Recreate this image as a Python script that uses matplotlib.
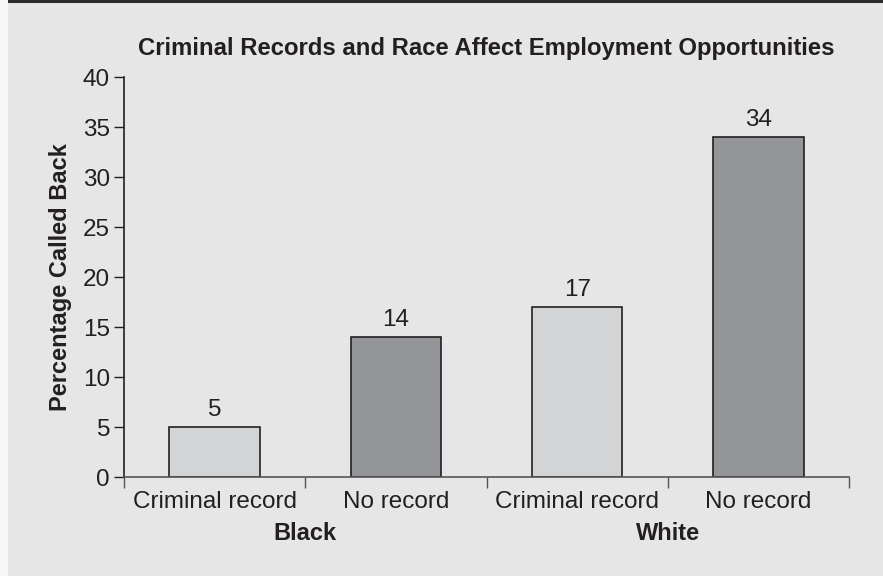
import matplotlib
matplotlib.use("Agg")
import matplotlib.pyplot as plt
from matplotlib.patches import Rectangle

categories = ["Criminal record", "No record", "Criminal record", "No record"]
groups = ["Black", "White"]
values = [5, 14, 17, 34]
bar_colors = ["#d3d4d6", "#939598", "#d3d4d6", "#939598"]
yticks = [0, 5, 10, 15, 20, 25, 30, 35, 40]
title = "Criminal Records and Race Affect Employment Opportunities"
ylabel = "Percentage Called Back"

plt.rcParams['font.family'] = ['Liberation Sans', 'DejaVu Sans']
txt = "#231f20"
bg = "#e6e6e6"

fig = plt.figure(figsize=(8.83, 5.76), dpi=100, facecolor=bg)
# white strip at left and dark top border
fig.patches.append(Rectangle((0, 0), 8/883, 1, transform=fig.transFigure, facecolor="#f7f7f7", edgecolor="none", zorder=0))
fig.patches.append(Rectangle((8/883, 1-3/576), 1, 3/576, transform=fig.transFigure, facecolor="#2b2b2b", edgecolor="none", zorder=0))

ax = fig.add_axes([124/883, 99/576, 725/883, 400/576])
ax.set_facecolor(bg)
x = list(range(len(values)))
bars = ax.bar(x, values, width=0.5, color=bar_colors, edgecolor=txt, linewidth=1.2, zorder=2)
for xi, v in zip(x, values):
    ax.text(xi, v + 0.6, str(v), ha="center", va="bottom", fontsize=17.5, color=txt)

ax.set_xlim(-0.5, len(values) - 0.5)
ax.set_ylim(0, 40)
ax.set_yticks(yticks)
ax.set_yticklabels([str(t) for t in yticks], fontsize=17.5, color=txt)
ax.tick_params(axis="y", length=7, width=1, color=txt, pad=3)

# x-axis: major ticks at category boundaries, labels at centers
ax.set_xticks([i - 0.5 for i in range(len(values) + 1)])
ax.set_xticklabels([])
ax.set_xticks(x, minor=True)
ax.set_xticklabels(categories, minor=True, fontsize=17.5, color=txt)
ax.tick_params(axis="x", which="major", length=8, width=1, color="#555555", direction="out")
ax.tick_params(axis="x", which="minor", length=0, pad=10)

for s in ["top", "right"]:
    ax.spines[s].set_visible(False)
ax.spines["left"].set_color(txt)
ax.spines["left"].set_linewidth(1.2)
ax.spines["bottom"].set_color("#555555")
ax.spines["bottom"].set_linewidth(1.2)

# group labels
for gi, g in enumerate(groups):
    ax.text(2 * gi + 0.5, -5.6, g, ha="center", va="center", fontsize=17, fontweight="bold", color=txt)

ax.set_ylabel(ylabel, fontsize=17, fontweight="bold", color=txt, labelpad=8)
fig.text(486/883, 1 - 48/576, title, ha="center", va="center", fontsize=17.2, fontweight="bold", color=txt)

fig.savefig("out.png", dpi=100, facecolor=bg)
